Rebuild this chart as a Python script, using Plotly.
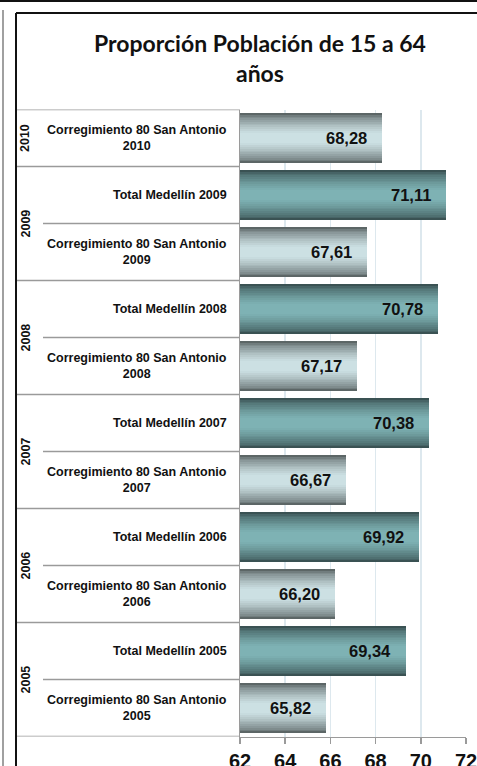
import plotly.graph_objects as go

# ---- data ----
years = ["2010", "2009", "2008", "2007", "2006", "2005"]
corr_labels = ["Corregimiento 80 San Antonio<br>2010", "Corregimiento 80 San Antonio<br>2009",
               "Corregimiento 80 San Antonio<br>2008", "Corregimiento 80 San Antonio<br>2007",
               "Corregimiento 80 San Antonio<br>2006", "Corregimiento 80 San Antonio<br>2005"]
corr_values = [68.28, 67.61, 67.17, 66.67, 66.20, 65.82]
med_years = ["2009", "2008", "2007", "2006", "2005"]
med_labels = ["Total Medellín 2009", "Total Medellín 2008", "Total Medellín 2007",
              "Total Medellín 2006", "Total Medellín 2005"]
med_values = [71.11, 70.78, 70.38, 69.92, 69.34]
x_ticks = [62, 64, 66, 68, 70, 72]
title_text = "Proporción Población de 15 a 64<br>años"

# ---- build category order (top to bottom) ----
cats, vals, kinds, grp = [], [], [], []
cats.append(corr_labels[0]); vals.append(corr_values[0]); kinds.append("c"); grp.append(years[0])
for i, y in enumerate(med_years):
    cats.append(med_labels[i]); vals.append(med_values[i]); kinds.append("m"); grp.append(y)
    cats.append(corr_labels[i + 1]); vals.append(corr_values[i + 1]); kinds.append("c"); grp.append(y)

W, H = 477, 766
def px(x): return x / W
def py(y): return 1 - y / H

def lerp(c1, c2, t):
    return "#%02x%02x%02x" % tuple(round(a + (b - a) * t) for a, b in zip(c1, c2))

edge = {"c": (0x5c, 0x66, 0x66), "m": (0x3a, 0x52, 0x53)}
center = {"c": (0xcc, 0xe0, 0xe3), "m": (0x7e, 0xb2, 0xb4)}

fig = go.Figure()
N = 14
full_w = 0.88
for k in range(N):
    t = k / (N - 1)
    w = full_w * (1 - k / N)
    tt = min(1.0, (t ** 0.7) * 1.15)
    colors = [lerp(edge[kd], center[kd], tt) for kd in kinds]
    fig.add_trace(go.Bar(
        x=[v - 62 for v in vals], base=62, y=cats, orientation="h",
        width=w, marker=dict(color=colors, line=dict(width=0)),
        hoverinfo="skip", showlegend=False))

# value labels
for c, v in zip(cats, vals):
    fig.add_annotation(x=v, y=c, xref="x", yref="y",
                       text="<b>" + f"{v:.2f}".replace(".", ",") + "</b>",
                       showarrow=False, xanchor="right", xshift=-13,
                       font=dict(family="Liberation Sans, Arial", size=16.5, color="#111111"))

# category labels
for c in cats:
    fig.add_annotation(x=px(229), y=c, xref="paper", yref="y", text=f"<b>{c}</b>",
                       showarrow=False, xanchor="right", align="center",
                       font=dict(family="Liberation Sans, Arial", size=12.5, color="#111111"))

# year group labels
n = len(cats)
for y in years:
    idx = [i for i, g in enumerate(grp) if g == y]
    ctr = (idx[0] + idx[-1]) / 2
    fig.add_annotation(x=px(25), y=ctr, xref="paper", yref="y", text=f"<b>{y}</b>",
                       showarrow=False, textangle=-90, xanchor="center", yanchor="middle",
                       font=dict(family="Liberation Sans, Arial", size=12.5, color="#111111"))

# title
fig.add_annotation(x=px(260), y=py(58), xref="paper", yref="paper", text=f"<b>{title_text}</b>",
                   showarrow=False, xanchor="center", yanchor="middle", align="center",
                   font=dict(family="Lato, Open Sans", size=23, color="#111111"))

shapes = []
sep = "#9a9a9a"
for i in range(n + 1):
    yb = i - 0.5
    if i == 0 or i == n or (grp[i - 1] != grp[i]):
        x0 = px(16)
    else:
        x0 = px(43)
    shapes.append(dict(type="line", xref="paper", yref="y", x0=x0, x1=px(240), y0=yb, y1=yb,
                       line=dict(color=sep, width=1.5)))
# frame lines
shapes.append(dict(type="line", xref="paper", yref="paper", x0=0, x1=1, y0=py(1), y1=py(1),
                   line=dict(color="#111111", width=2)))
shapes.append(dict(type="line", xref="paper", yref="paper", x0=px(3), x1=px(3), y0=py(10), y1=0,
                   line=dict(color="#a0a0a0", width=2)))
shapes.append(dict(type="line", xref="paper", yref="paper", x0=px(16), x1=px(16), y0=py(13), y1=0,
                   line=dict(color="#111111", width=2)))
shapes.append(dict(type="line", xref="paper", yref="paper", x0=px(16), x1=1, y0=py(13), y1=py(13),
                   line=dict(color="#111111", width=2)))

fig.update_layout(
    width=W, height=H, margin=dict(l=0, r=0, t=0, b=0, autoexpand=False),
    paper_bgcolor="white", plot_bgcolor="white",
    barmode="overlay", bargap=0,
    shapes=shapes, hovermode=False,
    xaxis=dict(domain=[px(240), px(466)], range=[62, 72], tickvals=x_ticks,
               ticktext=[f"<b>{t}</b>" for t in x_ticks],
               showgrid=True, gridcolor="#dde8ee", gridwidth=1.5,
               showline=True, linecolor=sep, linewidth=1.5,
               ticks="outside", ticklen=6, tickcolor=sep, tickwidth=1.5,
               ticklabelstandoff=0, ticklabeloverflow="allow", automargin=False,
               tickfont=dict(family="Liberation Sans, Arial", size=20, color="#111111"),
               zeroline=False, fixedrange=True),
    yaxis=dict(domain=[py(736.5), py(109.5)], type="category", categoryorder="array",
               categoryarray=cats, range=[n - 0.5, -0.5], showticklabels=False,
               showgrid=False, showline=True, linecolor=sep, linewidth=1.5, ticks="",
               automargin=False, fixedrange=True),
)

fig.write_html(
    "out.html",
    config={"displayModeBar": False, "staticPlot": True},
    post_script=(
        "var s=document.createElement('style');"
        "s.textContent='html,body{margin:0;padding:0;overflow:hidden}';"
        "document.head.appendChild(s);"
        "document.body.style.margin='0';"
    ),
)
